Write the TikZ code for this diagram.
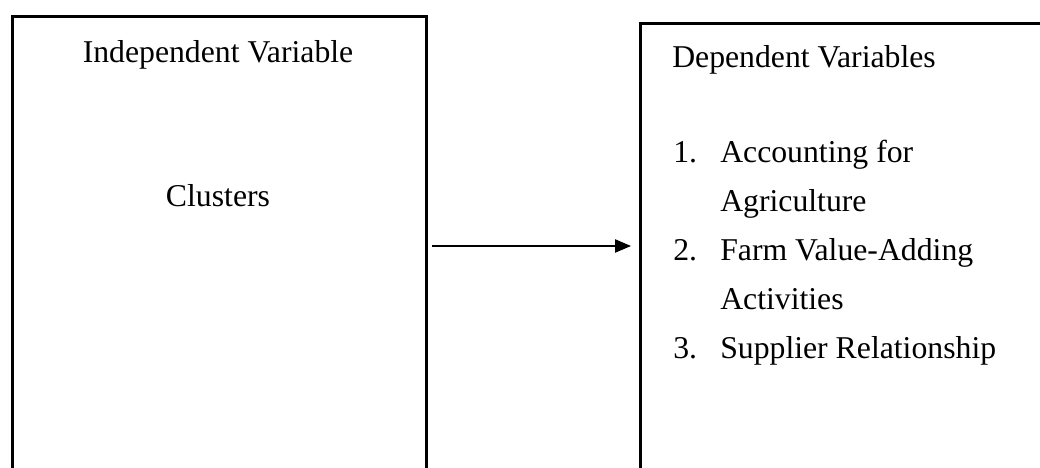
\documentclass[tikz,border=0pt]{standalone}
\usepackage{fontspec}
\setmainfont{Liberation Serif}
\usetikzlibrary{arrows.meta}
\tikzset{
  boxframe/.style={draw=black, line width=1.9pt, rectangle, inner sep=0pt, anchor=north west},
  label/.style={inner sep=0pt, font=\fontsize{23.8pt}{28pt}\selectfont},
  arr/.style={line width=1pt, -{Triangle[length=12pt,width=10pt]}}
}
\begin{document}
\begin{tikzpicture}[x=0.75pt,y=-0.75pt]
\useasboundingbox (0,0) rectangle (1040,468);
\node[boxframe, minimum width=310.5pt, minimum height=375pt] (lbox) at (11,15) {};
\node[boxframe, minimum width=330pt, minimum height=375pt] (rbox) at (639,22) {};
\node[label, anchor=base] (iv) at (218,62) {Independent Variable};
\node[label, anchor=base] (cl) at (218,206) {Clusters};
\node[label, anchor=base west] (dv) at (672,67) {Dependent Variables};
\node[label, anchor=base west] (n1) at (673,162) {1.};
\node[label, anchor=base west] (t1a) at (720,162) {Accounting for};
\node[label, anchor=base west] (t1b) at (720,211) {Agriculture};
\node[label, anchor=base west] (n2) at (673,260) {2.};
\node[label, anchor=base west] (t2a) at (720,260) {Farm Value-Adding};
\node[label, anchor=base west] (t2b) at (720,309) {Activities};
\node[label, anchor=base west] (n3) at (673,358) {3.};
\node[label, anchor=base west] (t3a) at (720,358) {Supplier Relationship};
\coordinate (a1) at (432,246);
\coordinate (a2) at (631,246);
\draw[arr] (a1) -- (a2);
\end{tikzpicture}
\end{document}
